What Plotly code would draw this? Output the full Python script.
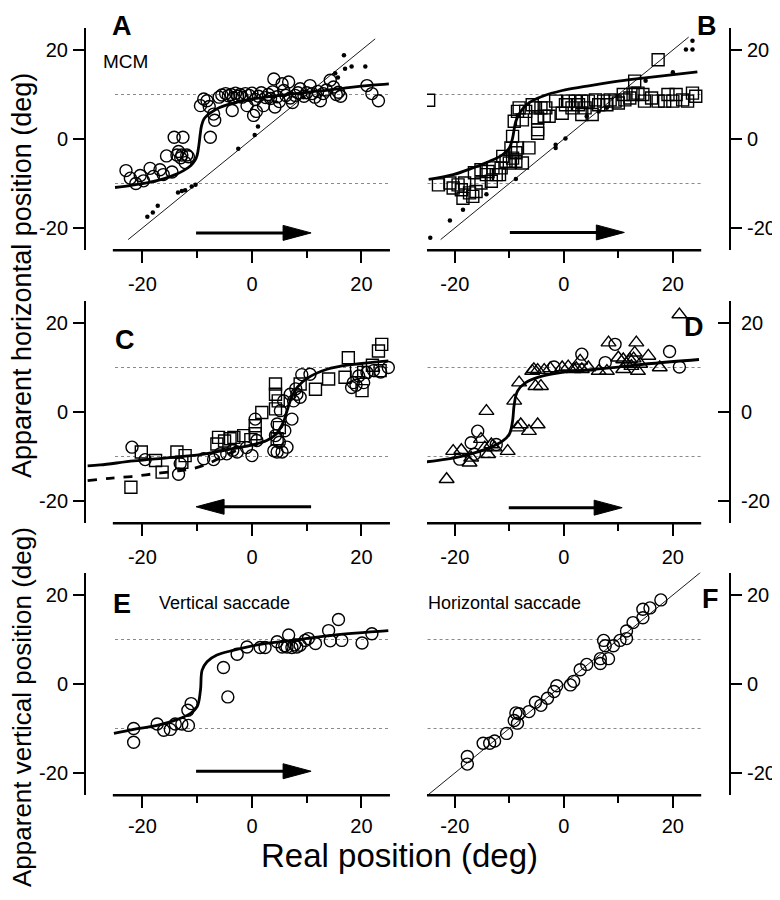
import plotly.graph_objects as go

# ------------------------------------------------------------------ data
# Panel A (circles: apparent position, dots: control, line: fit)
A_circle_x = [-23.0, -22.2, -21.2, -20.4, -19.8, -18.6, -18.0, -16.8, -16.2, -15.6, -14.6, -14.2, -12.6, -13.4, -13.7, -12.8, -11.9, -12.2, -13.0, -11.6,
              -9.4, -8.8, -8.2, -7.8, -7.6, -6.8, -7.0, -6.0, -5.5, -4.8, -4.3, -3.8, -3.4, -3.0, -2.6, -2.2, -3.6, -1.8, -1.2, -0.9,
              -0.5, 0.0, 0.3, 0.8, 0.6, 1.2, 1.7, 2.1, 2.5, 3.0, 3.4, 3.8, 4.0, 4.2, 4.6, 5.0, 5.5, 5.8, 6.2, 6.7,
              7.0, 7.4, 7.9, 8.4, 8.8, 9.5, 10.0, 10.6, 11.0, 11.5, 12.0, 12.5, 13.0, 13.6, 14.3, 14.9, 15.4, 15.8, 16.2, 21.0, 21.9, 23.1]
A_circle_y = [-7.1, -8.8, -10.0, -8.2, -9.4, -6.6, -8.4, -6.9, -8.0, -3.8, -7.4, 0.4, 0.4, -2.8, -3.6, -3.6, -3.6, -5.3, -4.2, -4.0,
              7.5, 9.0, 8.6, 7.3, 0.4, 4.2, 5.6, 9.4, 9.9, 10.2, 9.7, 10.0, 9.2, 10.3, 9.6, 10.0, 6.4, 9.4, 10.2, 7.5,
              9.8, 10.3, 5.3, 6.2, 8.9, 9.6, 10.4, 7.5, 9.3, 10.0, 9.1, 10.6, 13.5, 7.2, 9.5, 8.4, 12.4, 10.9, 9.8, 12.8,
              9.2, 8.2, 9.8, 10.4, 11.3, 9.6, 10.4, 12.0, 10.2, 9.4, 10.7, 8.6, 10.2, 11.0, 13.2, 11.7, 10.0, 10.5, 9.6, 12.0, 10.2, 8.6]
A_dot_x = [-19.1, -18.1, -17.2, -13.5, -12.8, -12.2, -11.0, -10.3, -2.5, 0.5, 1.1, 9.4, 15.2, 15.7, 16.8, 17.0, 18.2, 20.7]
A_dot_y = [-17.5, -16.5, -15.0, -12.0, -11.7, -11.5, -10.7, -10.3, -2.2, 0.9, 2.8, 9.4, 14.8, 13.8, 18.8, 15.8, 16.3, 16.3]
A_fit_x = [-25, -22, -19, -16, -14, -12.5, -11.2, -10.4, -10.0, -9.7, -9.45, -9.2, -8.8, -8.2, -7.3, -6, -4, -2, 0, 3, 6, 10, 14, 18, 22, 25]
A_fit_y = [-10.9, -10.4, -9.8, -8.9, -8.0, -7.1, -6.0, -4.8, -3.6, -1.5, 1.0, 3.0, 4.4, 5.3, 6.1, 7.0, 7.9, 8.5, 9.0, 9.5, 9.9, 10.5, 11.0, 11.6, 12.1, 12.4]
A_identity = [-22.6, 22.5]

# Panel B (squares)
B_square_x = [-23.0, -20.9, -19.4, -18.8, -18.5, -16.7, -16.1, -15.2, -16.4, -15.2, -13.9, -13.3, -12.4, -11.5, -11.2, -10.0, -9.4, -8.8, -7.6, -6.4,
              -9.7, -9.4, -9.1, -8.5, -8.2, -7.6, -5.2, -4.8, -4.8, -4.8, -3.3, -2.7, -1.5, -0.3, 0.9, 2.1, 3.3, 3.3, 5.2, 4.5,
              5.8, 7.3, 8.5, 10.0, 11.2, 12.7, 13.0, 13.6, 14.5, 17.3, 17.3, 19.1, 20.0, 21.8, 23.6, 24.2,
              -20.3, -18.2, -17.3, -14.2, -13.0, -11.8, -10.6, -8.8, -8.5, -7.0, -5.8, -4.2, -3.6, 0.3, 1.5, 2.7, 3.9, 6.4, 7.9, 9.4,
              10.9, 12.1, 14.8, 16.1, 18.5, 20.6, 22.7]
B_square_y = [-10.3, -9.9, -10.3, -11.4, -13.3, -12.9, -11.8, -9.9, -7.6, -6.9, -7.3, -9.5, -8.0, -6.5, -3.9, -5.4, -4.3, -3.1, -5.4, -2.0,
              -2.0, 0.6, 4.0, 6.2, 7.0, 4.3, 7.0, 4.7, 2.1, 1.3, 7.0, 5.1, 8.5, 5.8, 8.5, 8.5, 8.5, 5.5, 5.5, 8.5,
              8.8, 8.5, 8.8, 8.1, 8.8, 10.0, 13.0, 10.3, 10.0, 17.8, 8.5, 10.0, 8.5, 8.8, 10.3, 9.6,
              -11.0, -9.9, -12.1, -8.0, -6.5, -8.0, -5.0, -5.0, -2.0, 6.2, 7.7, 7.0, 5.1, 7.7, 7.0, 7.7, 7.0, 7.7, 7.7, 8.5,
              10.0, 9.2, 8.5, 9.2, 8.5, 10.0, 8.5]
B_edge_square_x = [-24.8]
B_edge_square_y = [8.7]
B_dot_x = [-24.5, -20.9, -18.5, -14.2, -8.8, -1.5, -1.5, 0.3, 4.2, 6.4, 7.9, 15.0, 20.0, 22.4, 23.6, 23.6]
B_dot_y = [-22.2, -18.3, -15.9, -12.4, -9.0, -2.0, -1.3, 0.1, 5.1, 6.2, 7.0, 13.1, 15.0, 20.1, 20.1, 22.1]
B_fit_x = [-24.8, -20.3, -16.7, -13.6, -11.2, -10.0, -9.4, -8.8, -7.9, -6.4, -3.9, -0.3, 3.9, 10.0, 16.1, 24.5]
B_fit_y = [-9.1, -8.0, -6.5, -5.0, -3.5, -2.0, 0.2, 4.0, 6.2, 8.1, 9.6, 10.9, 11.8, 13.0, 13.9, 15.1]
B_identity = [-22.6, 22.9]

# Panel C (circles and squares, leftward saccade)
C_circle_x = [-21.9, -19.5, -13.4, -13.1, -8.8, -7.0, -5.8, -4.6, -2.7, 0.0, 0.9, 0.6, 4.0, 4.6, 5.5, 6.4, 4.3, 4.6, 5.2, 5.8,
              7.3, 7.6, 8.2, 8.8, 7.0, 9.1, 10.6, 18.5, 18.2, 19.5, 20.4, 21.0, 24.9, 22.2, 5.0, 6.0, -3.5, -1.0, 8.0, 19.0, 23.5]
C_circle_y = [-7.9, -10.7, -14.0, -11.6, -10.5, -10.7, -9.4, -9.4, -9.0, -9.8, -6.4, -1.6, -8.7, -9.0, -9.0, -7.9, -5.3, -2.7, 0.3, 2.5,
              -1.6, 2.5, 4.0, 3.3, 4.0, 8.4, 8.5, 6.6, 5.5, 8.1, 6.6, 8.9, 10.0, 9.3, -6.8, -4.2, -8.6, -8.0, 5.2, 6.0, 9.0]
C_square_x = [-22.1, -20.2, -17.6, -16.4, -13.7, -12.2, -12.8, -6.1, -6.4, -4.0, -3.3, -1.5, 0.6, 1.8, 0.6, 4.3, 4.3, 4.3, 4.6, 8.8,
              11.6, 14.0, 17.6, 17.0, 20.1, 20.4, 23.1, 23.7, 23.4, 19.1, 4.8, 5.0, -5.0, -0.2, 22.0]
C_square_y = [-16.9, -9.0, -10.9, -13.5, -9.0, -9.8, -11.3, -5.7, -7.2, -6.0, -5.7, -5.3, -4.9, -0.1, -3.1, 6.3, 4.0, 0.7, -6.0, 6.3,
              5.1, 7.4, 12.2, 7.8, 4.8, 8.9, 13.7, 15.2, 9.3, 9.3, 2.5, -3.5, -6.5, -6.2, 10.5]
C_fit_x = [-30.0, -27.7, -21.6, -15.5, -9.4, -4.6, -0.3, 2.7, 4.4, 5.7, 6.6, 7.4, 8.3, 10.0, 13.7, 18.5, 24.9]
C_fit_y = [-12.1, -11.9, -11.0, -10.3, -9.6, -8.5, -7.5, -6.4, -5.0, -2.4, 1.0, 3.8, 5.6, 7.5, 9.6, 10.7, 11.5]
C_dash_x = [-30, -26, -22, -18, -14, -11, -8, -5, -2]
C_dash_y = [-15.4, -14.9, -14.5, -13.9, -13.3, -12.8, -11.6, -9.8, -8.2]

# Panel D (triangles and circles)
D_triangle_x = [-21.5, -20.3, -18.8, -17.3, -17.0, -14.2, -15.2, -14.5, -13.9, -13.3, -12.7, -10.3, -9.1, -8.2, -8.5, -7.9, -6.4, -4.8, -5.8, -5.2,
                -4.2, -4.8, -3.6, -0.3, 1.8, 3.3, 3.0, 6.4, 7.9, 8.2, 10.0, 10.9, 12.4, 13.3, 13.0, 13.6, 15.5, 17.6, 21.2, 10.9,
                12.1, -5.5, -2.5, 0.8, 2.3, 4.5, 11.5, 14.0, 12.8]
D_triangle_y = [-15.1, -8.8, -8.6, -11.4, -10.3, 0.2, -6.1, -8.0, -9.5, -7.3, -8.0, -8.8, 2.5, 6.6, -3.5, -2.8, -4.3, -2.8, 9.2, 5.8,
                5.8, 9.4, 9.4, 10.0, 9.6, 9.6, 11.5, 9.2, 9.2, 15.6, 12.2, 11.8, 10.3, 15.6, 13.3, 9.2, 12.6, 10.0, 21.9, 9.6,
                11.8, 9.6, 9.8, 10.2, 9.8, 10.0, 10.8, 10.8, 12.0]
D_circle_x = [-26.3, -19.1, -15.8, -17.0, -16.4, -12.4, 3.3, 9.4, 7.6, 19.4, 21.2, -1.8]
D_circle_y = [-10.0, -10.6, -4.3, -6.9, -9.5, -7.3, 13.0, 15.2, 11.1, 13.6, 10.1, 10.1]
D_fit_x = [-25.2, -21.5, -17.3, -13.6, -11.2, -10.0, -9.4, -9.1, -8.5, -7.0, -4.5, -0.9, 3.9, 10.0, 16.1, 24.8]
D_fit_y = [-11.2, -10.6, -9.5, -8.0, -6.5, -5.0, -2.0, 1.7, 4.7, 6.6, 7.9, 8.8, 9.4, 10.1, 10.9, 11.8]

# Panel E (vertical saccade)
E_circle_x = [-21.6, -21.6, -17.3, -16.1, -14.9, -14.0, -12.8, -11.6, -11.7, -11.1, -5.2, -4.4, -2.7, -0.9, 1.5, 2.4, 4.6, 5.5, 6.7, 6.4,
              7.3, 8.2, 8.8, 9.7, 10.3, 11.6, 14.0, 14.3, 15.8, 16.4, 20.1, 21.9, 6.0, 7.8]
E_circle_y = [-10.0, -13.1, -9.0, -10.4, -10.2, -9.0, -9.0, -9.3, -5.9, -4.4, 3.7, -2.9, 6.7, 8.3, 8.2, 8.2, 9.5, 8.3, 11.0, 8.3,
              8.2, 8.3, 8.7, 9.8, 10.2, 9.1, 12.0, 9.7, 14.5, 9.8, 9.2, 11.3, 8.6, 8.8]
E_fit_x = [-25.2, -21.6, -17.3, -13.7, -11.2, -10.0, -9.4, -9.1, -8.2, -6.4, -3.3, 1.5, 8.8, 14.9, 24.9]
E_fit_y = [-11.1, -10.2, -9.3, -8.0, -6.6, -5.1, -1.4, 3.1, 5.0, 6.5, 7.6, 8.9, 10.0, 11.0, 12.0]

# Panel F (horizontal saccade)
F_circle_x = [-17.7, -17.7, -14.8, -13.6, -12.7, -10.5, -9.1, -8.8, -8.5, -8.2, -6.4, -5.2, -4.2, -3.0, -1.8, -1.3, 1.2, 1.8, 3.0, 4.2,
              6.7, 6.7, 8.2, 7.3, 7.6, 9.1, 10.3, 11.5, 11.5, 12.7, 14.5, 14.5, 15.8, 17.8]
F_circle_y = [-16.3, -18.0, -13.3, -13.3, -12.8, -11.1, -8.2, -6.5, -8.8, -6.7, -6.2, -4.1, -4.8, -3.2, -1.7, -0.4, -0.2, 0.6, 3.2, 4.4,
              5.7, 4.6, 5.7, 9.8, 8.6, 8.6, 9.8, 10.2, 11.9, 13.8, 14.9, 16.8, 17.1, 18.9]
F_identity = [-25.0, 25.2]

# Saccade direction arrows (panel, tail x, tip x, y)
arrow_panels = ["A", "B", "C", "D", "E"]
arrow_tail_x = [-10.2, -9.9, 10.8, -10.1, -10.2]
arrow_tip_x = [10.8, 11.1, -10.2, 10.7, 10.8]
arrow_y = [-21.1, -21.0, -21.3, -21.5, -19.6]

tick_vals = [-20, 0, 20]
tick_text = ["-20", "0", "20"]
minor_tick_vals = [-10, 10]
criterion_levels = [-10, 10]

# ------------------------------------------------------------------ layout helpers
# The page body adds an 8px margin, so the figure is drawn 8px smaller and
# all positions below are given in window pixels and shifted by that margin.
OFF = 8
W, H = 780 - OFF, 900 - OFF
FONT = "Liberation Sans, Arial, Helvetica, sans-serif"


def px(x):
    return (x - OFF) / W


def py(y):
    return 1 - (y - OFF) / H


LEFT_XR = [-30.3, 25.5]
RIGHT_XR = [-25.1, 30.3]
YR = [-25, 25]
left_dom = [px(86), px(391.6)]
right_dom = [px(427), px(729)]
row_center = [139, 412, 684]
row_standoff = [4, 4, 1]
HALF = 111.25

panels = {
    "A": dict(i=1, col=0, row=0, tickdir="outside"),
    "B": dict(i=2, col=1, row=0, tickdir="outside"),
    "C": dict(i=3, col=0, row=1, tickdir="outside"),
    "D": dict(i=4, col=1, row=1, tickdir="inside"),
    "E": dict(i=5, col=0, row=2, tickdir="outside"),
    "F": dict(i=6, col=1, row=2, tickdir="outside"),
}
axis_line_extent = {0: [-25.4, 25.2], 1: [-25.1, 25.2]}

fig = go.Figure()
layout = dict(
    width=W, height=H, margin=dict(l=0, r=0, t=0, b=0),
    paper_bgcolor="white", plot_bgcolor="white", showlegend=False,
    font=dict(family=FONT, color="black"), hovermode=False,
)
shapes = []
annotations = []

for name, p in panels.items():
    i = p["i"]
    xr = LEFT_XR if p["col"] == 0 else RIGHT_XR
    xd = left_dom if p["col"] == 0 else right_dom
    c = row_center[p["row"]]
    yd = [py(c + HALF), py(c - HALF)]
    sfx = "" if i == 1 else str(i)
    layout["xaxis" + sfx] = dict(
        domain=xd, range=xr, anchor="y" + sfx, showline=False, showgrid=False, zeroline=False,
        ticks="outside", ticklen=12, tickwidth=2, tickcolor="black",
        tickmode="array", tickvals=tick_vals, ticktext=tick_text,
        tickfont=dict(size=20, family=FONT), ticklabelstandoff=row_standoff[p["row"]],
        minor=dict(tickmode="array", tickvals=minor_tick_vals, ticks="outside", ticklen=7,
                   tickwidth=2, tickcolor="black", showgrid=False),
    )
    right = p["col"] == 1
    if p["tickdir"] == "inside":
        standoff = 6
    elif right:
        standoff = 1
    else:
        standoff = 1
    layout["yaxis" + sfx] = dict(
        domain=yd, range=YR, anchor="x" + sfx, side="right" if right else "left",
        showline=True, linewidth=2, linecolor="black", showgrid=False, zeroline=False,
        ticks=p["tickdir"], ticklen=11, tickwidth=2, tickcolor="black",
        tickmode="array", tickvals=tick_vals, ticktext=tick_text,
        tickfont=dict(size=20, family=FONT), ticklabelstandoff=standoff,
    )
    # detached x-axis baseline
    ex = axis_line_extent[p["col"]]
    shapes.append(dict(type="line", xref="x" + sfx, yref="paper", x0=ex[0], x1=ex[1],
                       y0=py(c + HALF), y1=py(c + HALF), line=dict(color="black", width=2.5)))
    # criterion dotted lines
    for lv in criterion_levels:
        shapes.append(dict(type="line", xref="x" + sfx, yref="y" + sfx, x0=-25, x1=25.2,
                           y0=lv, y1=lv, line=dict(color="#8a8a8a", width=1.1, dash="dot"), layer="below"))

ax_of = {n: ("x" if p["i"] == 1 else "x" + str(p["i"]), "y" if p["i"] == 1 else "y" + str(p["i"]))
         for n, p in panels.items()}


def add(panel, **kw):
    xa, ya = ax_of[panel]
    fig.add_trace(go.Scatter(xaxis=xa, yaxis=ya, hoverinfo="skip", **kw))


open_mk = dict(color="black", line=dict(color="black", width=1.4))

# identity lines
for pn, ident in [("A", A_identity), ("B", B_identity), ("F", F_identity)]:
    add(pn, x=ident, y=ident, mode="lines", line=dict(color="black", width=0.9))

# Panel A
add("A", x=A_circle_x, y=A_circle_y, mode="markers", cliponaxis=False,
    marker=dict(symbol="circle-open", size=12, **open_mk))
add("A", x=A_dot_x, y=A_dot_y, mode="markers", cliponaxis=False,
    marker=dict(symbol="circle", size=4.5, color="black"))
add("A", x=A_fit_x, y=A_fit_y, mode="lines", line=dict(color="black", width=2.8, shape="spline"))

# Panel B
add("B", x=B_square_x, y=B_square_y, mode="markers", cliponaxis=False,
    marker=dict(symbol="square-open", size=12, **open_mk))
add("B", x=B_edge_square_x, y=B_edge_square_y, mode="markers", cliponaxis=True,
    marker=dict(symbol="square-open", size=12, **open_mk))
add("B", x=B_dot_x, y=B_dot_y, mode="markers", cliponaxis=False,
    marker=dict(symbol="circle", size=4.5, color="black"))
add("B", x=B_fit_x, y=B_fit_y, mode="lines", line=dict(color="black", width=2.8, shape="spline"))

# Panel C
add("C", x=C_square_x, y=C_square_y, mode="markers", cliponaxis=False,
    marker=dict(symbol="square-open", size=12, **open_mk))
add("C", x=C_circle_x, y=C_circle_y, mode="markers", cliponaxis=False,
    marker=dict(symbol="circle-open", size=12, **open_mk))
add("C", x=C_dash_x, y=C_dash_y, mode="lines", line=dict(color="black", width=2.8, dash="dash", shape="spline"))
add("C", x=C_fit_x, y=C_fit_y, mode="lines", line=dict(color="black", width=2.8, shape="spline"))

# Panel D
add("D", x=D_triangle_x, y=D_triangle_y, mode="markers", cliponaxis=False,
    marker=dict(symbol="triangle-up-open", size=13, **open_mk))
add("D", x=D_circle_x, y=D_circle_y, mode="markers", cliponaxis=False,
    marker=dict(symbol="circle-open", size=12, **open_mk))
add("D", x=D_fit_x, y=D_fit_y, mode="lines", line=dict(color="black", width=2.8, shape="spline"))

# Panel E
add("E", x=E_circle_x, y=E_circle_y, mode="markers", cliponaxis=False,
    marker=dict(symbol="circle-open", size=12, **open_mk))
add("E", x=E_fit_x, y=E_fit_y, mode="lines", line=dict(color="black", width=2.8, shape="spline"))

# Panel F
add("F", x=F_circle_x, y=F_circle_y, mode="markers", cliponaxis=False,
    marker=dict(symbol="circle-open", size=12, **open_mk))

# arrows
HEAD_LEN_PX, HEAD_HALF_PX = 28, 7.5
for pn, x0, x1, ya in zip(arrow_panels, arrow_tail_x, arrow_tip_x, arrow_y):
    p = panels[pn]
    sfx = "" if p["i"] == 1 else str(p["i"])
    xscale = 5.475 if p["col"] == 0 else 5.45
    yscale = 2 * HALF / (YR[1] - YR[0])
    d = 1 if x1 > x0 else -1
    base = x1 - d * HEAD_LEN_PX / xscale
    hh = HEAD_HALF_PX / yscale
    shapes.append(dict(type="line", xref="x" + sfx, yref="y" + sfx, x0=x0, x1=base + d * 0.5,
                       y0=ya, y1=ya, line=dict(color="black", width=3)))
    shapes.append(dict(type="path", xref="x" + sfx, yref="y" + sfx,
                       path=f"M {x1},{ya} L {base},{ya + hh} L {base},{ya - hh} Z",
                       fillcolor="black", line=dict(color="black", width=1)))

# panel letters and texts
top_letters = {"A": 122, "B": 707}
for t, lx in top_letters.items():
    annotations.append(dict(text=f"<b>{t}</b>", x=px(lx), y=py(8.5), xref="paper", yref="paper",
                            showarrow=False, xanchor="center", yanchor="top",
                            font=dict(size=27, family=FONT, color="black")))
letters = {"C": (125, 340), "D": (694, 327), "E": (122, 604), "F": (710, 599)}
for t, (lx, ly) in letters.items():
    annotations.append(dict(text=f"<b>{t}</b>", x=px(lx), y=py(ly), xref="paper", yref="paper",
                            showarrow=False, xanchor="center", yanchor="middle",
                            font=dict(size=27, family=FONT, color="black")))
for t, (lx, ly), s in [("MCM", (126, 62), 19), ("Vertical saccade", (224, 603), 18),
                       ("Horizontal saccade", (505, 603), 18)]:
    annotations.append(dict(text=t, x=px(lx), y=py(ly), xref="paper", yref="paper",
                            showarrow=False, xanchor="center", yanchor="middle",
                            font=dict(size=s, family=FONT, color="black")))
annotations.append(dict(text="Apparent horizontal position (deg)", x=px(22), y=py(276), xref="paper", yref="paper",
                        showarrow=False, textangle=-90, xanchor="center", yanchor="middle",
                        font=dict(size=27, family=FONT, color="black")))
annotations.append(dict(text="Apparent vertical position (deg)", x=px(22), y=py(707), xref="paper", yref="paper",
                        showarrow=False, textangle=-90, xanchor="center", yanchor="middle",
                        font=dict(size=26, family=FONT, color="black")))
annotations.append(dict(text="Real position (deg)", x=px(399), y=py(855), xref="paper", yref="paper",
                        showarrow=False, xanchor="center", yanchor="middle",
                        font=dict(size=33, family=FONT, color="black")))

layout["shapes"] = shapes
layout["annotations"] = annotations
fig.update_layout(**layout)
fig.write_html("out.html")
